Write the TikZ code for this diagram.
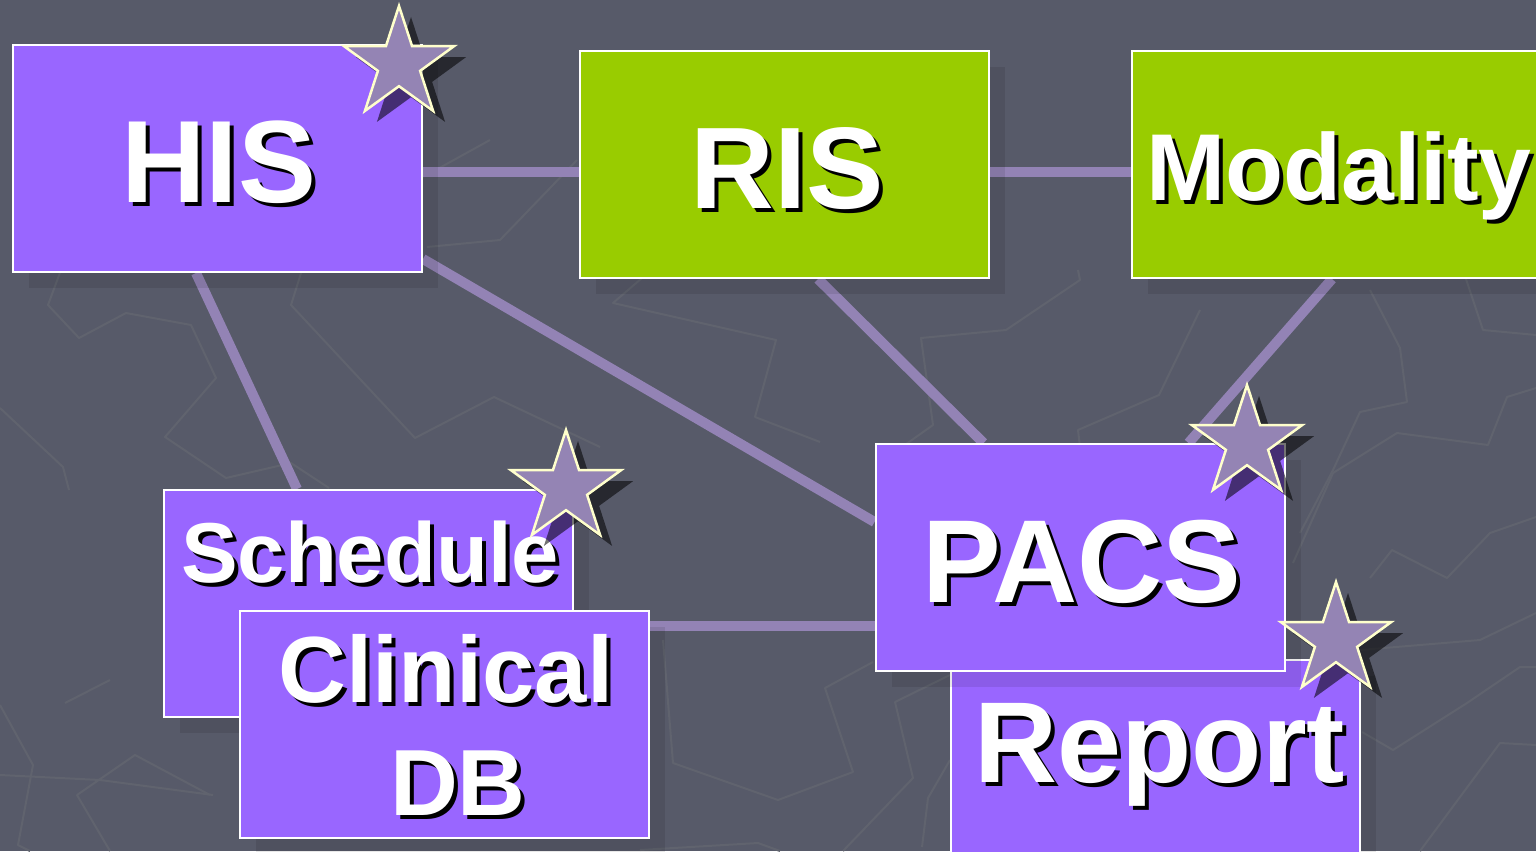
\documentclass[tikz,border=0pt]{standalone}
\usepackage{fontspec}
\setmainfont{Liberation Sans}
\usetikzlibrary{shadows}

\definecolor{bgslate}{HTML}{575A69}
\definecolor{bgtrace}{HTML}{60636E}
\definecolor{boxviolet}{HTML}{9966FF}
\definecolor{boxlime}{HTML}{99CC00}
\definecolor{linklav}{HTML}{9383B5}
\definecolor{starfill}{HTML}{9484B4}
\definecolor{starrim}{HTML}{FFFFCC}

\pgfdeclarelayer{backdrop}
\pgfdeclarelayer{links}
\pgfsetlayers{backdrop,links,main}

\tikzset{
  sysbox/.style={draw=white, line width=2pt, minimum width=409pt,
    minimum height=227pt, inner sep=0pt,
    drop shadow={shadow xshift=16pt, shadow yshift=-16pt, fill=black, opacity=0.09}},
  violetbox/.style={sysbox, fill=boxviolet},
  limebox/.style={sysbox, fill=boxlime},
  link/.style={draw=linklav, line width=10pt},
  trace/.style={draw=bgtrace, line width=2pt, line join=round},
  lbl/.style={text=white, inner sep=0pt, anchor=base},
  starface/.style={fill=starfill, draw=starrim, line width=2.5pt, line join=miter},
  starshade/.style={fill=black, opacity=0.55},
}

% white text with a black copy set 4pt right and 4pt down behind it
\newcommand\shadowed[1]{\leavevmode\rlap{\kern4pt\raisebox{-4pt}{\color{black}#1}}#1}

% bold shadowed label: name, x, baseline y, size, text
\newcommand\boxlabel[5]{%
  \node[lbl, font=\bfseries\fontsize{#4}{#4}\selectfont] (#1) at (#2,#3) {\shadowed{#5}};}

% five-pointed star outline centred on the origin
\newcommand\starpath{(-90:58) -- (-54:22.2) -- (-18:58) -- (18:22.2) -- (54:58)
  -- (90:22.2) -- (126:58) -- (162:22.2) -- (198:58) -- (234:22.2) -- cycle}

% star with its offset shadow: centre x, centre y
\newcommand\markstar[2]{%
  \fill[starshade, shift={(#1+12,#2+11)}] \starpath;
  \filldraw[starface, shift={(#1,#2)}] \starpath;}

\begin{document}
\begin{tikzpicture}[x=1pt, y=-1pt]
\useasboundingbox (0,0) rectangle (1536,851);

\begin{pgfonlayer}{backdrop}
  \fill[bgslate] (0,0) rectangle (1536,851);
  % faint map traces
  \draw[trace] (61,270) -- (48,305) -- (79,338) -- (126,313) -- (191,325) -- (216,378)
    -- (165,437) -- (226,478) -- (291,463) -- (329,488);
  \draw[trace] (0,408) -- (63,467) -- (69,490);
  \draw[trace] (302,270) -- (291,305) -- (415,438) -- (494,397) -- (600,447);
  \draw[trace] (642,278) -- (613,303) -- (776,340) -- (755,417) -- (820,442);
  \draw[trace] (1078,270) -- (1080,280) -- (1006,330) -- (921,338) -- (933,425) -- (902,447);
  \draw[trace] (1200,310) -- (1159,395) -- (1078,430) -- (1080,447);
  \draw[trace] (1370,290) -- (1400,348) -- (1407,402) -- (1360,412) -- (1333,470) -- (1300,533);
  \draw[trace] (1463,270) -- (1483,330) -- (1536,335);
  \draw[trace] (1536,388) -- (1507,397) -- (1488,445) -- (1397,433) -- (1333,473) -- (1293,563);
  \draw[trace] (1536,517) -- (1490,533) -- (1447,578) -- (1392,550) -- (1370,578);
  \draw[trace] (1360,650) -- (1480,640) -- (1536,613);
  \draw[trace] (1362,732) -- (1393,750) -- (1467,703) -- (1520,667) -- (1536,667);
  \draw[trace] (1420,851) -- (1500,743) -- (1536,745);
  \draw[trace] (663,640) -- (673,763) -- (778,800) -- (853,772) -- (825,688) -- (873,662);
  \draw[trace] (950,675) -- (895,702) -- (913,778) -- (843,851);
  \draw[trace] (950,760) -- (928,798) -- (922,847);
  \draw[trace] (640,850) -- (758,843) -- (780,851);
  \draw[trace] (0,705) -- (33,765) -- (18,845) -- (30,851);
  \draw[trace] (0,775) -- (100,780) -- (213,795);
  \draw[trace] (110,851) -- (77,795) -- (135,755) -- (210,795);
  \draw[trace] (65,703) -- (110,680);
  \draw[trace] (577,160) -- (500,240) -- (427,247);
  \draw[trace] (490,140) -- (423,177);
\end{pgfonlayer}

% system boxes and their labels
\node[violetbox] (his) at (217.5,158.5) {};
\boxlabel{his-text}{219}{202}{117}{HIS}
\node[limebox] (ris) at (784.5,164.5) {};
\boxlabel{ris-text}{787}{208}{116}{RIS}
\node[limebox, minimum width=413pt] (mod) at (1338.5,164.5) {};
\boxlabel{mod-text}{1339}{200}{95}{Modality}
\node[violetbox] (sched) at (368.5,603.5) {};
\boxlabel{sched-text}{370}{582}{85}{Schedule}
\node[violetbox] (clin) at (444.5,724.5) {};
\node[lbl, align=center, anchor=north, font=\bfseries\fontsize{94}{113}\selectfont]
  (clin-text) at (446,634) {\shadowed{Clinical}\\\hspace*{24pt}\shadowed{DB}};
\node[violetbox] (report) at (1155.5,773.5) {};
\boxlabel{report-text}{1160}{782}{115}{Report}
\node[violetbox] (pacs) at (1080,557.5) {};
\boxlabel{pacs-text}{1082}{602}{118}{PACS}

% stars
\markstar{399}{64}
\markstar{566}{488}
\markstar{1247}{443}
\markstar{1336}{640}

% connectors, kept beneath the boxes
\begin{pgfonlayer}{links}
  \draw[link] ([yshift=-13.5pt]his.east) -- ([yshift=-7.5pt]ris.west);
  \draw[link] ([yshift=-7.5pt]ris.east) -- ([yshift=-7.5pt]mod.west);
  \draw[link] ([yshift=14pt]his.south east) -- ([yshift=35.5pt]pacs.west);
  \draw[link] ([xshift=184pt]his.south west) -- ([xshift=134pt]sched.north west);
  \draw[link] ([xshift=33.5pt]ris.south) -- ([xshift=109pt]pacs.north west);
  \draw[link] ([xshift=201pt]mod.south west) -- ([xshift=314pt]pacs.north west);
  \draw[link] ([yshift=98.5pt]clin.east) -- ([yshift=-68.5pt]pacs.west);
\end{pgfonlayer}
\end{tikzpicture}
\end{document}
